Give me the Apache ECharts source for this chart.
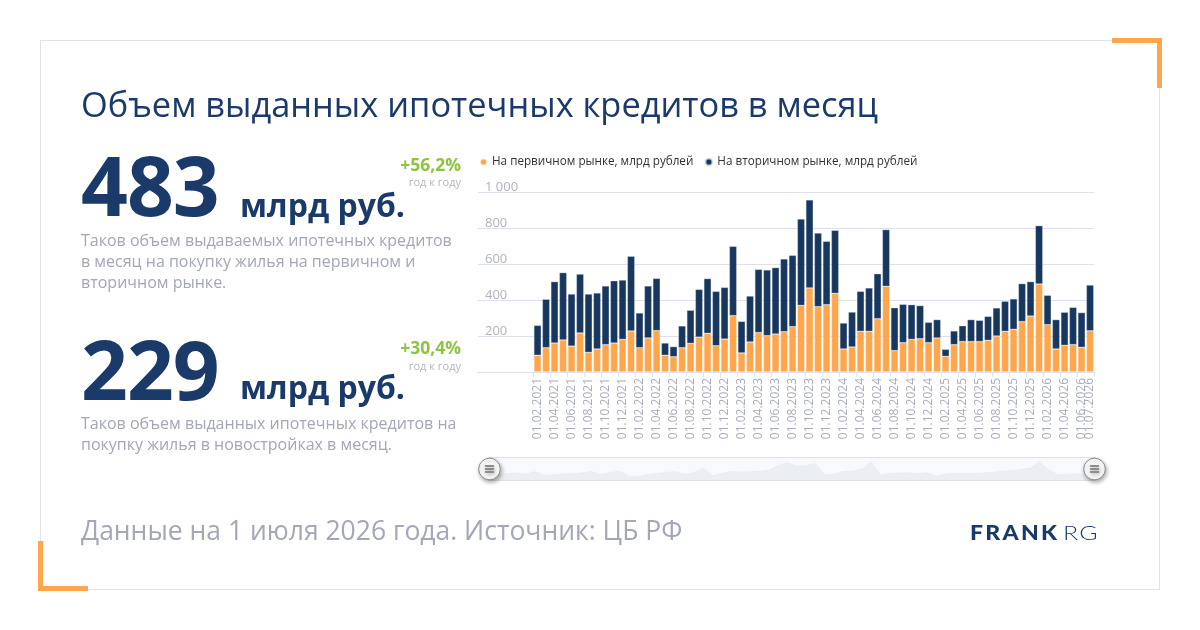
<!DOCTYPE html>
<html>
<head>
<meta charset="utf-8">
<script src="https://cdn.jsdelivr.net/npm/echarts@6/dist/echarts.min.js"></script>
<style>
  html, body { margin:0; padding:0; background:#fff; }
  body { width:1200px; height:630px; position:relative; overflow:hidden; font-family:'Open Sans', sans-serif; }
  #chart { position:absolute; left:0; top:0; width:1200px; height:630px; }
  .abs { position:absolute; white-space:nowrap; line-height:1; }
  .card { position:absolute; left:40px; top:40px; width:1118px; height:548px; border:1px solid #e3e3e3; }
  .or { position:absolute; background:#ffa64d; }
  .title { left:81px; top:87px; font-size:34.4px; color:#1b3a6b; }
  .big { font-size:82px; font-weight:700; color:#1a3a6a; letter-spacing:-1px; }
  .unit { font-size:32px; font-weight:700; color:#1a3a6a; }
  .pct { font-size:17.5px; font-weight:700; color:#8cc43f; text-align:right; }
  .yoy { font-size:11px; color:#b3b6c2; text-align:right; }
  .desc { font-size:16px; line-height:21px; color:#a3a7b6; white-space:normal; width:378px; }
  .foot { left:81px; top:517px; font-size:26.5px; color:#a3a7b6; }
  .logo { left:970px; top:522px; font-size:20px; color:#1a3a6a; font-family:'Lato', sans-serif; }
</style>
</head>
<body>
<div class="card"></div>
<div class="or" style="left:1112px;top:38px;width:50px;height:5px;"></div>
<div class="or" style="left:1157px;top:38px;width:5px;height:50px;"></div>
<div class="or" style="left:38px;top:541px;width:5px;height:50px;"></div>
<div class="or" style="left:38px;top:586px;width:50px;height:5px;"></div>
<div id="chart"></div>

<div class="abs title">Объем выданных ипотечных кредитов в месяц</div>

<div class="abs big" style="left:81px;top:143px;">483</div>
<div class="abs unit" style="left:240px;top:189px;">млрд руб.</div>
<div class="abs pct" style="right:739px;top:156px;">+56,2%</div>
<div class="abs yoy" style="right:739px;top:176px;">год к году</div>
<div class="abs desc" style="left:81px;top:230px;">Таков объем выдаваемых ипотечных кредитов в месяц на покупку жилья на первичном и вторичном рынке.</div>

<div class="abs big" style="left:81px;top:327px;">229</div>
<div class="abs unit" style="left:240px;top:371px;">млрд руб.</div>
<div class="abs pct" style="right:739px;top:339px;">+30,4%</div>
<div class="abs yoy" style="right:739px;top:360px;">год к году</div>
<div class="abs desc" style="left:81px;top:413px;">Таков объем выданных ипотечных кредитов на покупку жилья в новостройках в месяц.</div>

<div class="abs foot">Данные на 1 июля 2026 года. Источник: ЦБ РФ</div>
<div class="abs logo"><span style="font-weight:900;letter-spacing:2px;display:inline-block;transform:scaleX(1.15);transform-origin:left;">FRANK</span><span style="font-weight:300;margin-left:15px;letter-spacing:1px;display:inline-block;transform:scaleX(1.25);transform-origin:left;">RG</span></div>

<script>
const categories = [
  '01.02.2021','01.03.2021','01.04.2021','01.05.2021','01.06.2021','01.07.2021','01.08.2021','01.09.2021','01.10.2021','01.11.2021','01.12.2021',
  '01.01.2022','01.02.2022','01.03.2022','01.04.2022','01.05.2022','01.06.2022','01.07.2022','01.08.2022','01.09.2022','01.10.2022','01.11.2022','01.12.2022',
  '01.01.2023','01.02.2023','01.03.2023','01.04.2023','01.05.2023','01.06.2023','01.07.2023','01.08.2023','01.09.2023','01.10.2023','01.11.2023','01.12.2023',
  '01.01.2024','01.02.2024','01.03.2024','01.04.2024','01.05.2024','01.06.2024','01.07.2024','01.08.2024','01.09.2024','01.10.2024','01.11.2024','01.12.2024',
  '01.01.2025','01.02.2025','01.03.2025','01.04.2025','01.05.2025','01.06.2025','01.07.2025','01.08.2025','01.09.2025','01.10.2025','01.11.2025','01.12.2025',
  '01.01.2026','01.02.2026','01.03.2026','01.04.2026','01.05.2026','01.06.2026','01.07.2026'
];
const primaryMarket = [
  93,135,161,178,144,217,109,128,152,161,181,
  228,135,189,230,93,85,135,159,194,215,146,183,
  313,106,167,219,202,211,224,252,370,467,363,374,
  437,128,139,226,226,296,476,119,163,181,185,163,
  189,87,152,169,169,169,176,200,226,237,280,311,
  489,263,128,148,152,137,229
];
const secondaryMarket = [
  166,269,341,374,289,327,324,311,326,346,330,
  415,193,289,290,68,56,121,184,265,304,302,287,
  385,175,255,351,365,369,404,396,480,489,409,352,
  350,144,194,222,241,250,315,238,213,193,184,113,
  102,39,76,88,122,118,133,156,167,169,211,191,
  324,163,163,184,207,193,254
];
const seriesNames = ['На первичном рынке, млрд рублей', 'На вторичном рынке, млрд рублей'];
const yMax = 1000;
const yStep = 200;

const lastIdx = categories.length - 1;
const everyOther = (i) => i % 2 === 0;
const onlyLast = (i) => i === lastIdx;
const gridColor = '#dde1ee';
const font = 'Open Sans';
const xLabelStyle = { rotate: 90, fontSize: 12, color: '#a9adbb', margin: 6, fontFamily: font, showMaxLabel: true, showMinLabel: true };

const chart = echarts.init(document.getElementById('chart'), null, { renderer: 'canvas' });
chart.setOption({
  animation: false,
  backgroundColor: 'transparent',
  textStyle: { fontFamily: font },
  legend: {
    left: 474, top: 151,
    icon: 'circle', itemWidth: 7, itemHeight: 7, itemGap: 11,
    textStyle: { fontSize: 11.7, color: '#333', fontFamily: font },
    data: seriesNames
  },
  grid: [
    { left: 533.3, right: 105.7, top: 192, bottom: 258 },
    { left: 478, right: 105.7, top: 192, bottom: 258 }
  ],
  xAxis: [
    {
      type: 'category', gridIndex: 0, position: 'bottom', data: categories, boundaryGap: true,
      axisLine: { show: false },
      axisTick: { show: true, interval: everyOther, length: 5, lineStyle: { color: gridColor } },
      axisLabel: Object.assign({ interval: everyOther }, xLabelStyle)
    },
    {
      type: 'value', gridIndex: 1, min: 0, max: 1,
      axisLine: { show: true, lineStyle: { color: gridColor } },
      axisTick: { show: false }, axisLabel: { show: false }, splitLine: { show: false }
    },
    {
      type: 'category', gridIndex: 0, position: 'bottom', offset: 0, data: categories, boundaryGap: true,
      axisLine: { show: false },
      axisTick: { show: true, interval: onlyLast, length: 5, lineStyle: { color: gridColor } },
      axisLabel: Object.assign({ interval: onlyLast }, xLabelStyle)
    }
  ],
  yAxis: [
    { type: 'value', gridIndex: 0, min: 0, max: yMax, interval: yStep, show: false },
    {
      type: 'value', gridIndex: 1, min: 0, max: yMax, interval: yStep,
      axisLine: { show: false }, axisTick: { show: false },
      splitLine: { lineStyle: { color: gridColor } },
      axisLabel: {
        inside: true, verticalAlign: 'bottom', lineHeight: 10, margin: 7, fontSize: 13, color: '#b0b3c0', fontFamily: font,
        formatter: v => v === 0 ? '' : String(v).replace(/\B(?=(\d{3})+(?!\d))/g, ' ')
      }
    }
  ],
  dataZoom: [{
    type: 'slider', xAxisIndex: [0, 2], start: 0, end: 100,
    left: 486, right: 107, top: 457, height: 24,
    showDetail: false, brushSelect: false, moveHandleSize: 0,
    backgroundColor: 'rgba(0,0,0,0)', borderColor: '#dfe2ea',
    fillerColor: 'rgba(235,238,245,0.35)',
    dataBackground: { lineStyle: { color: '#e3e5ea', width: 0.6 }, areaStyle: { color: '#eceef2', opacity: 1 } },
    selectedDataBackground: { lineStyle: { color: '#e3e5ea', width: 0.6 }, areaStyle: { color: '#eceef2', opacity: 1 } },
    handleIcon: 'path://M10,0A10,10,0,1,1,10,20A10,10,0,1,1,10,0Z M6,6.8h8v0.9h-8Z M6,9.55h8v0.9h-8Z M6,12.3h8v0.9h-8Z',
    handleSize: '90%',
    handleStyle: { color: '#fff', borderColor: '#8a8a8a', borderWidth: 1, shadowBlur: 4, shadowColor: 'rgba(0,0,0,0.35)', shadowOffsetX: 1, shadowOffsetY: 2 }
  }],
  series: [
    {
      name: seriesNames[0], type: 'bar', stack: 'total', xAxisIndex: 0, yAxisIndex: 0,
      data: primaryMarket, barCategoryGap: '14%',
      itemStyle: { color: '#ffa64d', borderColor: 'rgba(255,255,255,0.7)', borderWidth: 0.5 }
    },
    {
      name: seriesNames[1], type: 'bar', stack: 'total', xAxisIndex: 0, yAxisIndex: 0,
      data: secondaryMarket, barCategoryGap: '14%',
      itemStyle: { color: '#17375f', borderColor: 'rgba(220,226,238,0.7)', borderWidth: 0.5 }
    }
  ]
});
</script>
</body>
</html>
